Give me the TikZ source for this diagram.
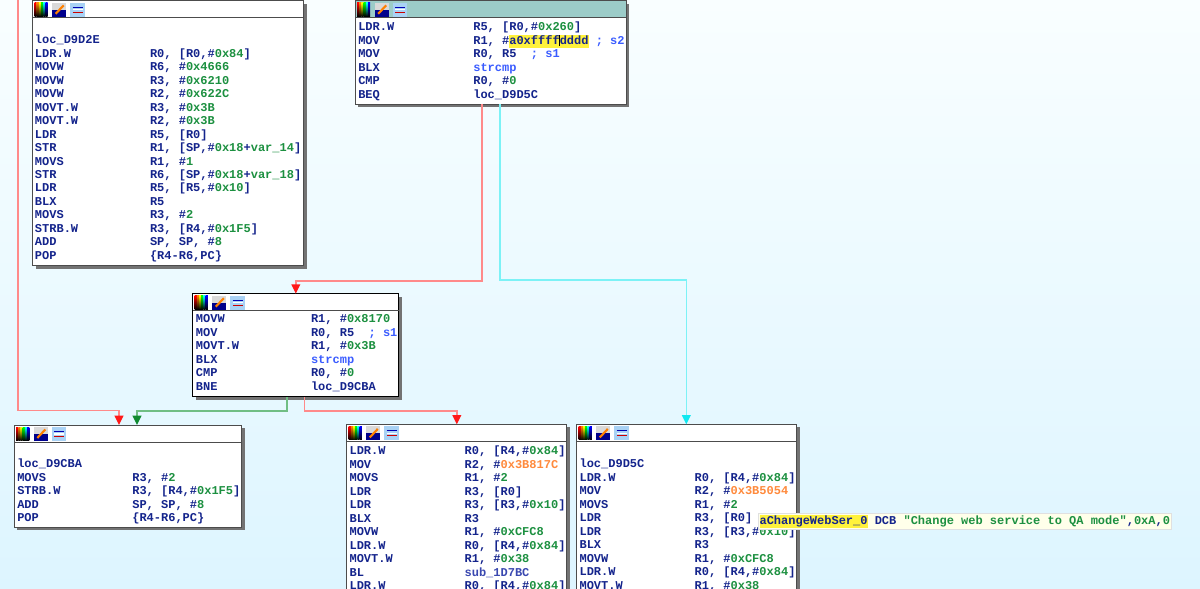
\documentclass[tikz,border=0pt]{standalone}
\usepackage{fontspec}
\usetikzlibrary{arrows.meta,calc,shadows}
\newfontfamily\asmfamily{Liberation Mono}
\definecolor{bgtop}{HTML}{F9FEFF}
\definecolor{bgbottom}{HTML}{DDF5FF}
\definecolor{asmnavy}{HTML}{14248C}
\definecolor{asmgreen}{HTML}{1C9040}
\definecolor{asmblue}{HTML}{3A5CFF}
\definecolor{asmsub}{HTML}{3A48B0}
\definecolor{asmorange}{HTML}{FF8A3C}
\definecolor{asmyellow}{HTML}{FFF23C}
\definecolor{tipback}{HTML}{FFFFEA}
\definecolor{titleteal}{HTML}{9CCCC8}
\definecolor{edgered}{HTML}{FF8A8A}
\definecolor{headred}{HTML}{FF1818}
\definecolor{edgegreen}{HTML}{70BE84}
\definecolor{headgreen}{HTML}{108A30}
\definecolor{edgecyan}{HTML}{7CF2F6}
\definecolor{headcyan}{HTML}{10E8F0}
\definecolor{iconsky}{HTML}{A9D2F5}
\newcommand{\asmtext}{\asmfamily\bfseries\fontsize{9}{10.12}\selectfont\color{asmnavy}}
\newcommand{\asm}[2]{\makebox[86.3pt][l]{#1}#2}
\newcommand{\numc}[1]{\textcolor{asmgreen}{#1}}
\newcommand{\funcc}[1]{\textcolor{asmblue}{#1}}
\newcommand{\addrc}[1]{\textcolor{asmorange}{#1}}
\newcommand{\hilite}[1]{{\setlength{\fboxsep}{0pt}\colorbox{asmyellow}{\strut #1}}}
\tikzset{
  asmblock/.style={draw=#1, fill=white, line width=0.75pt, inner sep=0pt, outer sep=0pt, anchor=north west,
    drop shadow={shadow xshift=2.2pt, shadow yshift=-2.2pt, fill=black!55, opacity=1}},
  asmblock/.default=black!70,
  asmlines/.style={font=\asmtext, align=left, inner sep=0pt, anchor=north west, yshift=1.05pt, execute at begin node=\strut},
  edge/.style={line width=1.1pt, color=edge#1, -{Triangle[length=7pt, width=6.5pt, color=head#1]}},
  iconbar/.pic={
    \foreach \i/\c in {0/red, 2.2/orange, 4.4/yellow, 6.6/green, 8.8/cyan, 11/blue}
      \shade[top color=\c, bottom color=black] (1.8+\i,2) rectangle (4+\i,15.5);
    \fill[black!15] (19.5,2) rectangle (33.5,9);
    \fill[blue!55!black] (19.5,9) rectangle (33.5,16);
    \draw[orange, line width=1.6pt] (23,13) -- (31,4.5);
    \fill[iconsky] (37.5,2) rectangle (52,16);
    \draw[blue!70!black, line width=0.8pt] (40,6.5) -- (50,6.5);
    \draw[white, line width=0.9pt] (40,9) -- (50,9);
    \draw[red!80!black, line width=0.8pt] (40,11.5) -- (50,11.5);
  }
}
\begin{document}
\begin{tikzpicture}[x=0.75pt,y=-0.75pt]
\useasboundingbox (0,0) rectangle (1200,589);
\clip (0,0) rectangle (1200,589);
\shade[top color=bgtop, bottom color=bgbottom] (0,0) rectangle (1200,589);

% blocks
\node[asmblock, minimum width=203.2pt, minimum height=198.7pt] (blockA) at (32.7,0.8) {};
\node[asmblock, minimum width=203.2pt, minimum height=77.4pt] (blockB) at (355.2,0.8) {};
\node[asmblock=black, minimum width=154.5pt, minimum height=77.3pt] (blockC) at (192.8,293.7) {};
\node[asmblock, minimum width=170.7pt, minimum height=76.5pt] (blockD) at (14.3,425) {};
\node[asmblock, minimum width=165pt, minimum height=150pt] (blockE) at (346.8,424.4) {};
\node[asmblock, minimum width=165pt, minimum height=150pt] (blockF) at (576.8,424.4) {};

\fill[titleteal] ($(blockB.north west)+(0.5,0.5)$) rectangle ($(blockB.north east)+(-0.5,17.2)$);
\foreach \n in {blockA,blockB,blockC,blockD,blockE,blockF} {
  \draw[black!70, line width=0.75pt] ($(\n.north west)+(0,17)$) -- ($(\n.north east)+(0,17)$);
  \pic at (\n.north west) {iconbar};
}

% listings
\node[asmlines] (textA) at (34.7,36) {%
loc\_D9D2E\\
\asm{LDR.W}{R0, [R0,\#\numc{0x84}]}\\
\asm{MOVW}{R6, \#\numc{0x4666}}\\
\asm{MOVW}{R3, \#\numc{0x6210}}\\
\asm{MOVW}{R2, \#\numc{0x622C}}\\
\asm{MOVT.W}{R3, \#\numc{0x3B}}\\
\asm{MOVT.W}{R2, \#\numc{0x3B}}\\
\asm{LDR}{R5, [R0]}\\
\asm{STR}{R1, [SP,\#\numc{0x18}+\numc{var\_14}]}\\
\asm{MOVS}{R1, \#\numc{1}}\\
\asm{STR}{R6, [SP,\#\numc{0x18}+\numc{var\_18}]}\\
\asm{LDR}{R5, [R5,\#\numc{0x10}]}\\
\asm{BLX}{R5}\\
\asm{MOVS}{R3, \#\numc{2}}\\
\asm{STRB.W}{R3, [R4,\#\numc{0x1F5}]}\\
\asm{ADD}{SP, SP, \#\numc{8}}\\
\asm{POP}{\{R4-R6,PC\}}};

\node[asmlines] (textB) at (358,23) {%
\asm{LDR.W}{R5, [R0,\#\numc{0x260}]}\\
\asm{MOV}{R1, \#\hilite{a0xffff\llap{\color{black}\rule[-1.5pt]{0.8pt}{8.5pt}}dddd} \funcc{; s2}}\\
\asm{MOV}{R0, R5\ \ \funcc{; s1}}\\
\asm{BLX}{\funcc{strcmp}}\\
\asm{CMP}{R0, \#\numc{0}}\\
\asm{BEQ}{loc\_D9D5C}};

\node[asmlines] (textC) at (195.7,316) {%
\asm{MOVW}{R1, \#\numc{0x8170}}\\
\asm{MOV}{R0, R5\ \ \funcc{; s1}}\\
\asm{MOVT.W}{R1, \#\numc{0x3B}}\\
\asm{BLX}{\funcc{strcmp}}\\
\asm{CMP}{R0, \#\numc{0}}\\
\asm{BNE}{loc\_D9CBA}};

\node[asmlines] (textD) at (17,460) {%
loc\_D9CBA\\
\asm{MOVS}{R3, \#\numc{2}}\\
\asm{STRB.W}{R3, [R4,\#\numc{0x1F5}]}\\
\asm{ADD}{SP, SP, \#\numc{8}}\\
\asm{POP}{\{R4-R6,PC\}}};

\node[asmlines] (textE) at (349.3,447) {%
\asm{LDR.W}{R0, [R4,\#\numc{0x84}]}\\
\asm{MOV}{R2, \#\addrc{0x3B817C}}\\
\asm{MOVS}{R1, \#\numc{2}}\\
\asm{LDR}{R3, [R0]}\\
\asm{LDR}{R3, [R3,\#\numc{0x10}]}\\
\asm{BLX}{R3}\\
\asm{MOVW}{R1, \#\numc{0xCFC8}}\\
\asm{LDR.W}{R0, [R4,\#\numc{0x84}]}\\
\asm{MOVT.W}{R1, \#\numc{0x38}}\\
\asm{BL}{\textcolor{asmsub}{sub\_1D7BC}}\\
\asm{LDR.W}{R0, [R4,\#\numc{0x84}]}};

\node[asmlines] (textF) at (579.3,460) {%
loc\_D9D5C\\
\asm{LDR.W}{R0, [R4,\#\numc{0x84}]}\\
\asm{MOV}{R2, \#\addrc{0x3B5054}}\\
\asm{MOVS}{R1, \#\numc{2}}\\
\asm{LDR}{R3, [R0]}\\
\asm{LDR}{R3, [R3,\#\numc{0x10}]}\\
\asm{BLX}{R3}\\
\asm{MOVW}{R1, \#\numc{0xCFC8}}\\
\asm{LDR.W}{R0, [R4,\#\numc{0x84}]}\\
\asm{MOVT.W}{R1, \#\numc{0x38}}};

% connectors
\coordinate (redTop) at (18,-5);
\draw[edge=red] (redTop) |- (100,410.5) -| ($(blockD.north west)+(104.7,0)$);
\draw[edge=green] ($(blockC.south west)+(94,0)$) |- (200,411) -| ($(blockD.north west)+(122.7,0)$);
\draw[edge=red] ($(blockC.south west)+(111.5,0)$) |- (400,411) -| ($(blockE.north west)+(110,0)$);
\draw[edge=red] ($(blockB.south west)+(126.6,0)$) |- (400,281) -| ($(blockC.north west)+(103,0)$);
\draw[edge=cyan] ($(blockB.south west)+(144.6,0)$) |- (600,280) -| ($(blockF.north west)+(109.5,0)$);

% hint over the listing
\node[draw=black!12, fill=tipback, line width=0.75pt, inner ysep=0pt, inner xsep=0.8pt, anchor=north west, minimum height=12pt, font=\asmtext] (hintString) at (758,513) {%
\hilite{aChangeWebSer\_0} DCB \numc{"Change web service to QA mode"},\numc{0xA},\numc{0}};
\end{tikzpicture}
\end{document}
